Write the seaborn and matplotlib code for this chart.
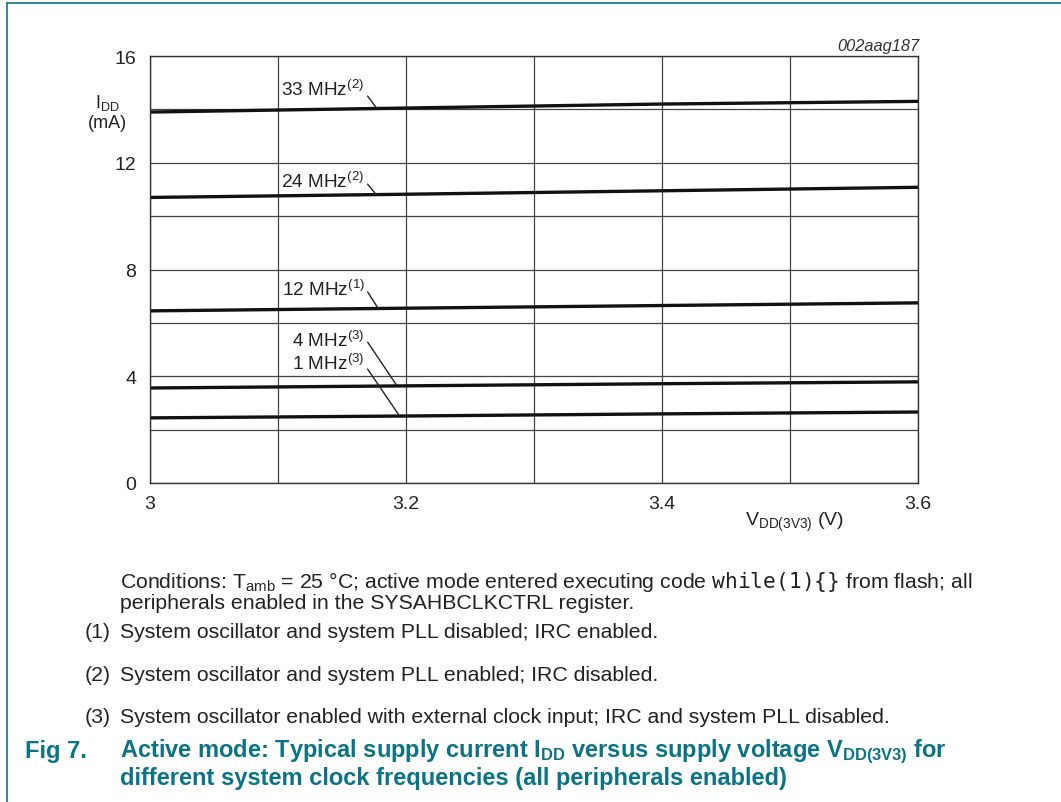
import numpy as np
import pandas as pd
import seaborn as sns
import matplotlib.pyplot as plt
from matplotlib.lines import Line2D

# supply voltage (V)
vdd = [3.0, 3.2, 3.4, 3.6]
# IDD (mA) per clock frequency
idd_33 = [13.90, 14.05, 14.20, 14.30]
idd_24 = [10.70, 10.82, 10.95, 11.08]
idd_12 = [6.45, 6.55, 6.65, 6.75]
idd_4 = [3.56, 3.64, 3.72, 3.79]
idd_1 = [2.44, 2.51, 2.59, 2.66]
freqs = ["33 MHz", "24 MHz", "12 MHz", "4 MHz", "1 MHz"]
notes = ["(2)", "(2)", "(1)", "(3)", "(3)"]

x_ticks = [3.0, 3.2, 3.4, 3.6]
x_tick_labels = ["3", "3.2", "3.4", "3.6"]
y_ticks = [0, 4, 8, 12, 16]

teal = "#0b7386"
ink = "#222222"

df = pd.concat([
    pd.DataFrame({"vdd": vdd, "idd": vals, "freq": f})
    for f, vals in zip(freqs, [idd_33, idd_24, idd_12, idd_4, idd_1])
])

sns.set_style("white")
plt.rcParams['font.family'] = ['Liberation Sans', 'DejaVu Sans']
plt.rcParams['mathtext.fontset'] = 'custom'
plt.rcParams['mathtext.rm'] = 'Liberation Sans'
plt.rcParams['mathtext.it'] = 'Liberation Sans:italic'
plt.rcParams['mathtext.bf'] = 'Liberation Sans:bold'
plt.rcParams['mathtext.tt'] = 'DejaVu Sans Mono'

fig = plt.figure(figsize=(10.61, 8.03), dpi=100)
ax = fig.add_axes([150 / 1061, 1 - 484 / 803, 768 / 1061, 427 / 803])

sns.lineplot(data=df, x="vdd", y="idd", hue="freq", palette=["#111111"] * 5,
             linewidth=2.4, legend=False, ax=ax)

ax.set_xlim(3.0, 3.6)
ax.set_ylim(0, 16)
ax.set_xticks(x_ticks)
ax.set_xticklabels(x_tick_labels)
ax.set_yticks(y_ticks)
ax.set_xticks(np.arange(3.1, 3.6, 0.2), minor=True)
ax.set_yticks([2, 6, 10, 14], minor=True)
ax.grid(True, which="both", color="#444444", linewidth=0.9)
ax.tick_params(which="both", length=0, labelsize=14, colors=ink)
ax.tick_params(axis="x", pad=9)
ax.tick_params(axis="y", pad=10)
for s in ax.spines.values():
    s.set_color("#333333")
    s.set_linewidth(1.0)
ax.set_xlabel("")
ax.set_ylabel("")

# curve labels with leader lines
label_pos = [(3.102, 14.55), (3.102, 11.09), (3.103, 7.05), (3.111, 5.13), (3.111, 4.27)]
leader_from = [(3.170, 14.50), (3.170, 11.20), (3.170, 7.16), (3.170, 5.28), (3.170, 4.27)]
leader_to = [(3.177, 14.05), (3.177, 10.79), (3.178, 6.56), (3.193, 3.64), (3.195, 2.51)]
for f, n, p, a, b in zip(freqs, notes, label_pos, leader_from, leader_to):
    ax.text(p[0], p[1], f + r"$^{\mathregular{" + n + "}}$", fontsize=13.7,
            ha="left", va="baseline", color=ink)
    ax.annotate("", xy=b, xytext=a,
                arrowprops=dict(arrowstyle="-", lw=1.0, color=ink,
                                shrinkA=0, shrinkB=0))

fig.text(107 / 1061, 1 - 103 / 803, r"I$_{\mathregular{DD}}$", fontsize=13,
         ha="center", va="center", color=ink)
fig.text(107 / 1061, 1 - 124 / 803, "(mA)", fontsize=13,
         ha="center", va="center", color=ink)
fig.text(794 / 1061, 1 - 522 / 803, r"V$_{\mathregular{DD(3V3)}}$ (V)", fontsize=14,
         ha="center", va="center", color=ink)
fig.text(919 / 1061, 1 - 46 / 803, "002aag187", fontsize=11.8, style="italic",
         ha="right", va="center", color="#333333")

# notes below the chart
body = 15.3
fig.text(120 / 1061, 1 - 582 / 803,
         r"Conditions: T$_{\mathregular{amb}}$ = 25 °C; active mode entered executing code "
         r"$\mathtt{while(1)\{\}}$ from flash; all",
         fontsize=body, ha="left", va="center", color=ink)
fig.text(120 / 1061, 1 - 604 / 803, "peripherals enabled in the SYSAHBCLKCTRL register.",
         fontsize=body, ha="left", va="center", color=ink)
footnotes = [
    ("(1)", "System oscillator and system PLL disabled; IRC enabled."),
    ("(2)", "System oscillator and system PLL enabled; IRC disabled."),
    ("(3)", "System oscillator enabled with external clock input; IRC and system PLL disabled."),
]
for (num, txt), yy in zip(footnotes, [633, 676, 718]):
    fig.text(98 / 1061, 1 - yy / 803, num, fontsize=body, ha="center", va="center", color=ink)
    fig.text(120 / 1061, 1 - yy / 803, txt, fontsize=body, ha="left", va="center", color=ink)

cap = 17
fig.text(25 / 1061, 1 - 752 / 803, "Fig 7.", fontsize=cap, fontweight="bold",
         ha="left", va="center", color=teal)
fig.text(120 / 1061, 1 - 752 / 803,
         r"Active mode: Typical supply current I$_{\mathbf{DD}}$ versus supply voltage "
         r"V$_{\mathbf{DD(3V3)}}$ for",
         fontsize=cap, fontweight="bold", ha="left", va="center", color=teal)
fig.text(120 / 1061, 1 - 779 / 803,
         "different system clock frequencies (all peripherals enabled)",
         fontsize=cap, fontweight="bold", ha="left", va="center", color=teal)

# frame lines of the page
fig.add_artist(Line2D([7 / 1061, 1], [1 - 4 / 803, 1 - 4 / 803], transform=fig.transFigure,
                      color=teal, lw=1.2))
fig.add_artist(Line2D([7 / 1061, 7 / 1061], [0, 1 - 4 / 803], transform=fig.transFigure,
                      color=teal, lw=1.2))

fig.savefig("out.png", dpi=100)
